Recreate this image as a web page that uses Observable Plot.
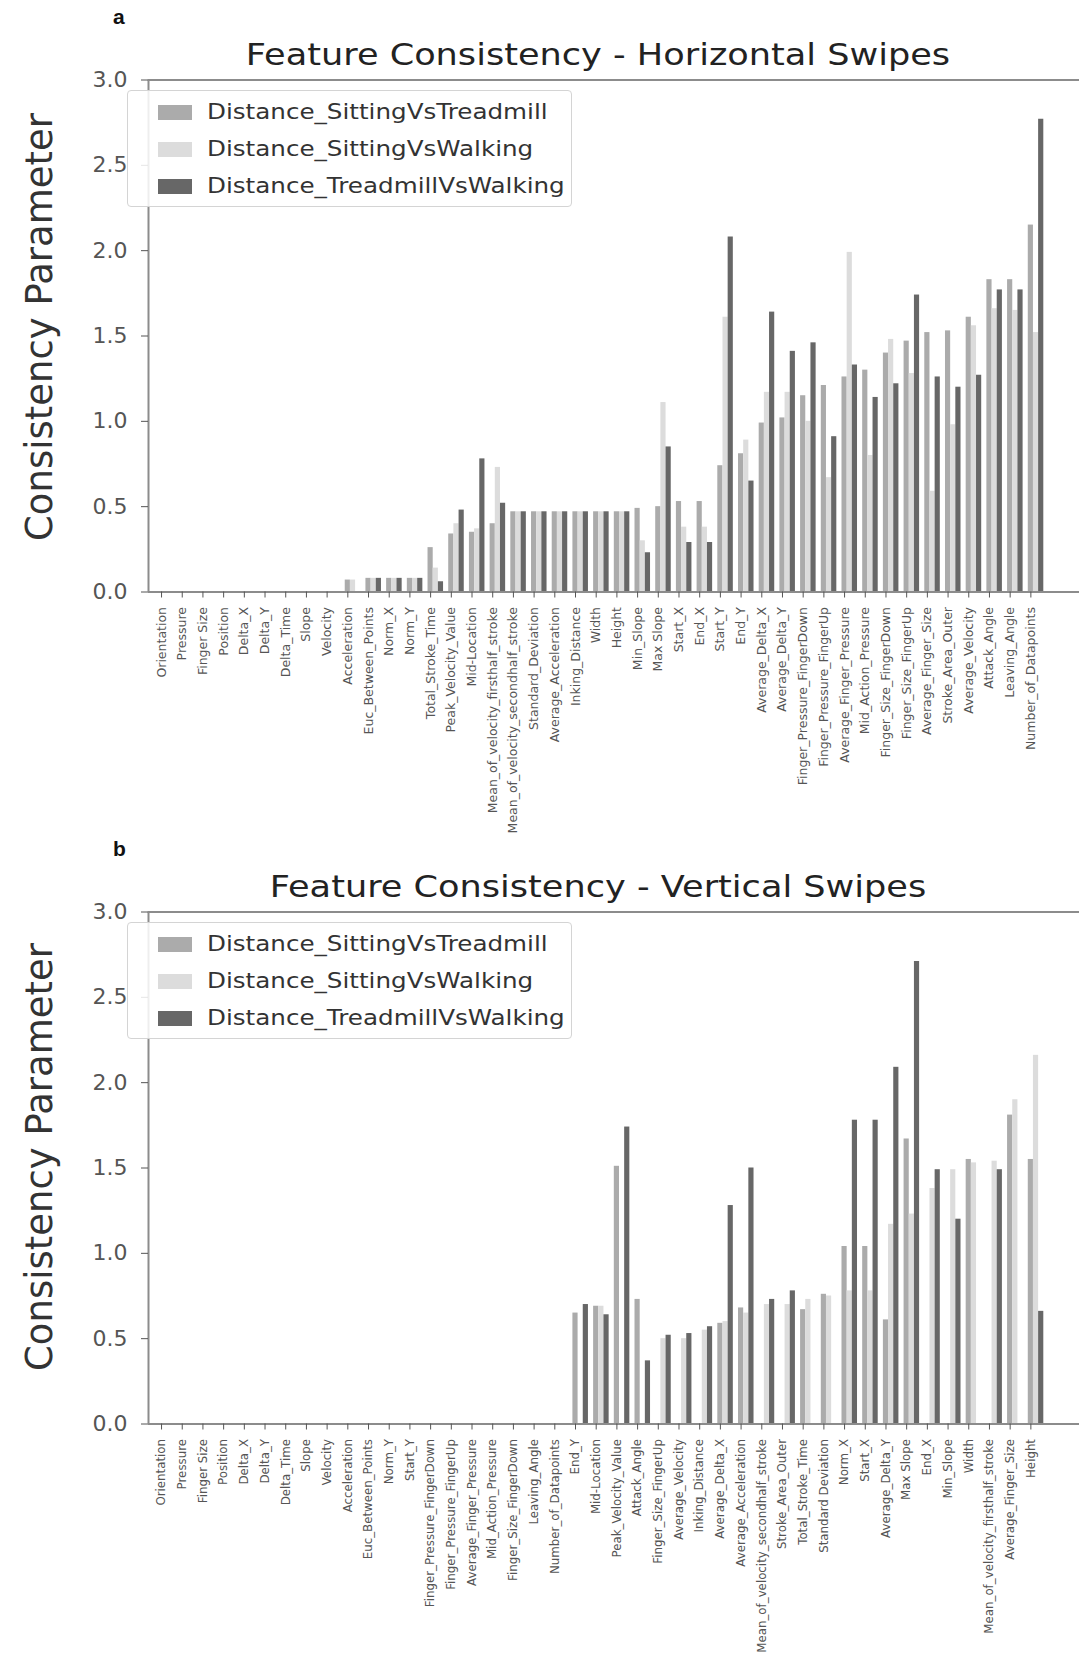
<!DOCTYPE html>
<html>
<head>
<meta charset="utf-8">
<script src="https://cdn.jsdelivr.net/npm/d3@7"></script>
<script src="https://cdn.jsdelivr.net/npm/@observablehq/plot@0.6"></script>
<style>
  body { margin: 0; background: #fff; font-family: "DejaVu Sans", sans-serif; }
  #wrap { position: relative; width: 1079px; height: 1662px; overflow: hidden; background: #fff; }
  .panel { position: absolute; left: 0; width: 1079px; }
  .panel svg { position: absolute; left: 0; top: 0; }
  .title { position: absolute; left: 0; width: 1196px; text-align: center; font-size: 30px; line-height: 1; color: #222; white-space: nowrap; z-index: 3; transform: scaleX(1.17); transform-origin: 598px 0; }
  .tag { position: absolute; font-family: "Liberation Sans", Arial, sans-serif; font-weight: bold; font-size: 21px; line-height: 1; color: #111; z-index: 3; }
  .legend { position: absolute; left: 127px; width: 445px; height: 117px; border: 1px solid #d4d4d4; border-radius: 4px; background: rgba(255,255,255,0.85); z-index: 3; box-sizing: border-box; }
  .legend .row { position: absolute; left: 0; height: 24px; }
  .legend .sw { position: absolute; left: 30px; top: 5px; width: 34px; height: 15px; }
  .legend .lab { position: absolute; left: 79px; top: 0; font-size: 20.5px; line-height: 24px; color: #333; white-space: nowrap; transform: scaleX(1.2); transform-origin: 0 50%; }
</style>
</head>
<body>
<div id="wrap"></div>
<script>
// ---------------- data ----------------
const seriesNames = ["Distance_SittingVsTreadmill", "Distance_SittingVsWalking", "Distance_TreadmillVsWalking"];
const seriesColors = ["#ababab", "#dcdcdc", "#676767"];
const yTicks = [0, 0.5, 1.0, 1.5, 2.0, 2.5, 3.0];
const yLabel = "Consistency Parameter";

// Panel a: Horizontal swipes
const titleA = "Feature Consistency - Horizontal Swipes";
const catsA = ["Orientation","Pressure","Finger Size","Position","Delta_X","Delta_Y","Delta_Time","Slope","Velocity","Acceleration","Euc_Between_Points","Norm_X","Norm_Y","Total_Stroke_Time","Peak_Velocity_Value","Mid-Location","Mean_of_velocity_firsthalf_stroke","Mean_of_velocity_secondhalf_stroke","Standard_Deviation","Average_Acceleration","Inking_Distance","Width","Height","Min_Slope","Max Slope","Start_X","End_X","Start_Y","End_Y","Average_Delta_X","Average_Delta_Y","Finger_Pressure_FingerDown","Finger_Pressure_FingerUp","Average_Finger_Pressure","Mid_Action_Pressure","Finger_Size_FingerDown","Finger_Size_FingerUp","Average_Finger_Size","Stroke_Area_Outer","Average_Velocity","Attack_Angle","Leaving_Angle","Number_of_Datapoints"];
const sitTreadA = [0,0,0,0,0,0,0,0,0,0.07,0.08,0.08,0.08,0.26,0.34,0.35,0.40,0.47,0.47,0.47,0.47,0.47,0.47,0.49,0.50,0.53,0.53,0.74,0.81,0.99,1.02,1.15,1.21,1.26,1.30,1.40,1.47,1.52,1.53,1.61,1.83,1.83,2.15];
const sitWalkA  = [0,0,0,0,0,0,0,0,0,0.07,0.08,0.08,0.08,0.14,0.40,0.37,0.73,0.47,0.47,0.47,0.47,0.47,0.47,0.30,1.11,0.38,0.38,1.61,0.89,1.17,1.17,1.00,0.67,1.99,0.80,1.48,1.28,0.59,0.98,1.56,1.66,1.65,1.52];
const treadWalkA= [0,0,0,0,0,0,0,0,0,0,0.08,0.08,0.08,0.06,0.48,0.78,0.52,0.47,0.47,0.47,0.47,0.47,0.47,0.23,0.85,0.29,0.29,2.08,0.65,1.64,1.41,1.46,0.91,1.33,1.14,1.22,1.74,1.26,1.20,1.27,1.77,1.77,2.77];

// Panel b: Vertical swipes
const titleB = "Feature Consistency - Vertical Swipes";
const catsB = ["Orientation","Pressure","Finger Size","Position","Delta_X","Delta_Y","Delta_Time","Slope","Velocity","Acceleration","Euc_Between_Points","Norm_Y","Start_Y","Finger_Pressure_FingerDown","Finger_Pressure_FingerUp","Average_Finger_Pressure","Mid_Action_Pressure","Finger_Size_FingerDown","Leaving_Angle","Number_of_Datapoints","End_Y","Mid-Location","Peak_Velocity_Value","Attack_Angle","Finger_Size_FingerUp","Average_Velocity","Inking_Distance","Average_Delta_X","Average_Acceleration","Mean_of_velocity_secondhalf_stroke","Stroke_Area_Outer","Total_Stroke_Time","Standard Deviation","Norm_X","Start_X","Average_Delta_Y","Max Slope","End_X","Min_Slope","Width","Mean_of_velocity_firsthalf_stroke","Average_Finger_Size","Height"];
const sitTreadB = [0,0,0,0,0,0,0,0,0,0,0,0,0,0,0,0,0,0,0,0,0.65,0.69,1.51,0.73,0,0,0,0.59,0.68,0,0,0.67,0.76,1.04,1.04,0.61,1.67,0,0,1.55,0,1.81,1.55];
const sitWalkB  = [0,0,0,0,0,0,0,0,0,0,0,0,0,0,0,0,0,0,0,0,0,0.69,0,0,0.50,0.50,0.55,0.60,0.65,0.70,0.70,0.73,0.75,0.78,0.78,1.17,1.23,1.38,1.49,1.53,1.54,1.90,2.16];
const treadWalkB= [0,0,0,0,0,0,0,0,0,0,0,0,0,0,0,0,0,0,0,0,0.70,0.64,1.74,0.37,0.52,0.53,0.57,1.28,1.50,0.73,0.78,0,0,1.78,1.78,2.09,2.71,1.49,1.20,0,1.49,0,0.66];

// ---------------- drawing ----------------
const xDomain = [-0.63, 44.35];
const barStep = 0.25;

function makePanel(top, svgHeight, tag, titleText, cats, series, labelShift, tickFont, tickSpacing) {
  const panel = document.createElement("div");
  panel.className = "panel";
  panel.style.top = top + "px";
  panel.style.height = svgHeight + "px";

  const rows = [];
  cats.forEach((c, i) => series.forEach((arr, k) => rows.push({i, k, series: seriesNames[k], value: arr[i]})));

  const zeroY = 591.5;
  const svg = Plot.plot({
    width: 1079,
    height: svgHeight,
    marginTop: 79.5,
    marginBottom: svgHeight - zeroY,
    marginLeft: 148,
    marginRight: 0,
    style: {background: "transparent", overflow: "visible", fontFamily: "DejaVu Sans, sans-serif"},
    x: {domain: xDomain},
    y: {domain: [0, 3]},
    color: {domain: seriesNames, range: seriesColors},
    marks: [
      Plot.rect(rows, {
        x1: d => d.i + d.k * barStep - barStep / 2,
        x2: d => d.i + d.k * barStep + barStep / 2,
        y1: 0,
        y2: "value",
        fill: "series"
      }),
      Plot.ruleY([0, 3], {stroke: "#8c8c8c", strokeWidth: 2}),
      Plot.ruleX([xDomain[0]], {stroke: "#8c8c8c", strokeWidth: 2}),
      Plot.axisX({ticks: d3.range(cats.length), tickFormat: i => cats[i], tickRotate: -90, tickSize: 6, tickPadding: 9, fontSize: tickFont, color: "#555", label: null, style: {letterSpacing: tickSpacing}}),
      Plot.axisY({ticks: yTicks, tickFormat: d3.format(".1f"), tickSize: 7, tickPadding: 14, fontSize: 22, color: "#555", label: null}),
      Plot.text([yLabel], {frameAnchor: "left", textAnchor: "middle", rotate: -90, dx: -108, dy: labelShift, fontSize: 37, fill: "#333"})
    ]
  });
  panel.appendChild(svg);

  const t = document.createElement("div");
  t.className = "title";
  t.style.top = "40px";
  t.textContent = titleText;
  panel.appendChild(t);

  const g = document.createElement("div");
  g.className = "tag";
  g.style.left = "113px";
  g.style.top = "6px";
  g.textContent = tag;
  panel.appendChild(g);

  const leg = document.createElement("div");
  leg.className = "legend";
  leg.style.top = "90px";
  seriesNames.forEach((name, k) => {
    const r = document.createElement("div");
    r.className = "row";
    r.style.top = (9 + 37 * k) + "px";
    const sw = document.createElement("div");
    sw.className = "sw";
    sw.style.background = seriesColors[k];
    const lab = document.createElement("div");
    lab.className = "lab";
    lab.textContent = name;
    r.appendChild(sw); r.appendChild(lab);
    leg.appendChild(r);
  });
  panel.appendChild(leg);
  return panel;
}

const wrap = document.getElementById("wrap");
wrap.appendChild(makePanel(0, 850, "a", titleA, catsA, [sitTreadA, sitWalkA, treadWalkA], -9, 12.5, "0.3px"));
wrap.appendChild(makePanel(832, 830, "b", titleB, catsB, [sitTreadB, sitWalkB, treadWalkB], -11, 11.8, "0.15px"));
</script>
</body>
</html>
